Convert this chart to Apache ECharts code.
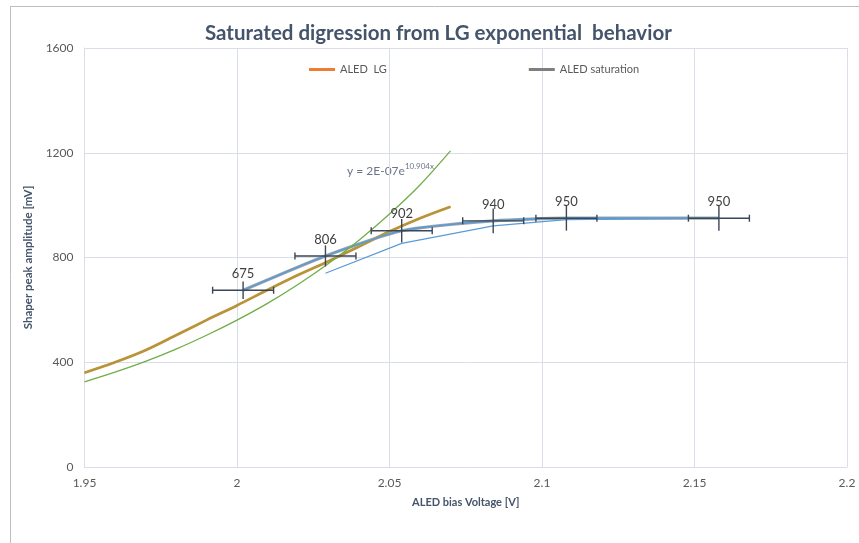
<!DOCTYPE html>
<html>
<head>
<meta charset="utf-8">
<script src="https://cdn.jsdelivr.net/npm/echarts@6/dist/echarts.min.js"></script>
<style>
html,body{margin:0;padding:0;background:#fff;}
#c{width:859px;height:543px;}
</style>
</head>
<body>
<div id="c"></div>
<script>
// ---- data ----
const lgX = [1.95, 1.96, 1.97, 1.98, 1.99, 2.00, 2.01, 2.02, 2.03, 2.04, 2.05, 2.06, 2.07];
const lgY = [360, 400, 446, 503, 561, 617, 676, 733, 786, 842, 899, 950, 994];
const expY = [325, 362, 403, 450, 503, 561, 625, 697, 777, 866, 966, 1077, 1207];
const satX = [2.002, 2.029, 2.054, 2.084, 2.108, 2.158];
const satY = [675, 806, 902, 940, 950, 950];
const maX = [2.029, 2.054, 2.084, 2.108, 2.158];
const maY = [740, 854, 921, 945, 950];
const xErr = 0.01;
const yErrPct = 0.05;
const xTicks = [1.95, 2, 2.05, 2.1, 2.15, 2.2];
const yTicks = [0, 400, 800, 1200, 1600];

const zip = (xs, ys) => xs.map((x, i) => [x, ys[i]]);
const FONT = 'Lato, "Open Sans", sans-serif';
const errData = satX.map((x, i) => [x, satY[i], xErr, satY[i] * yErrPct]);

const chart = echarts.init(document.getElementById('c'), null, {renderer: 'canvas'});
chart.setOption({
  animation: false,
  backgroundColor: '#fff',
  title: {
    text: 'Saturated digression from LG exponential  behavior',
    left: 200, top: 18,
    textStyle: {fontFamily: FONT, fontSize: 20.5, fontWeight: 'bold', color: '#44546A'}
  },
  legend: {
    left: 309, top: 64, padding: 0,
    itemWidth: 26, itemHeight: 3, itemGap: 142,
    icon: 'rect',
    textStyle: {fontFamily: FONT, fontSize: 11, color: '#595959'},
    data: [
      {name: 'ALED  LG', itemStyle: {color: '#ED7D31', opacity: 1}},
      {name: 'ALED saturation', itemStyle: {color: '#7F7F7F', opacity: 1}}
    ]
  },
  grid: {left: 84.5, right: 12, top: 48, bottom: 76, containLabel: false},
  xAxis: {
    type: 'value', min: xTicks[0], max: xTicks[xTicks.length - 1], interval: 0.05,
    name: 'ALED bias Voltage [V]', nameLocation: 'middle', nameGap: 30,
    nameTextStyle: {fontFamily: FONT, fontSize: 11, fontWeight: 'bold', color: '#44546A'},
    axisLine: {show: true, lineStyle: {color: '#D9DEE8'}},
    axisTick: {show: false},
    axisLabel: {fontFamily: FONT, fontSize: 12, color: '#595959', margin: 10,
      formatter: v => String(+v.toFixed(2))},
    splitLine: {show: true, lineStyle: {color: '#D9DEE8'}}
  },
  yAxis: {
    type: 'value', min: yTicks[0], max: yTicks[yTicks.length - 1], interval: 400,
    name: 'Shaper peak amplitude [mV]', nameLocation: 'middle', nameGap: 42, nameRotate: 90,
    nameTextStyle: {fontFamily: FONT, fontSize: 11.5, fontWeight: 'bold', color: '#44546A'},
    axisLine: {show: true, lineStyle: {color: '#D9DEE8'}},
    axisTick: {show: false},
    axisLabel: {fontFamily: FONT, fontSize: 12, color: '#595959', margin: 11,
      formatter: v => String(v)},
    splitLine: {show: true, lineStyle: {color: '#D9DEE8'}}
  },
  graphic: [
    {type: 'line', shape: {x1: 10.5, y1: 6, x2: 10.5, y2: 543}, style: {stroke: '#BFBFBF', lineWidth: 1}, silent: true},
    {type: 'line', shape: {x1: 10, y1: 6.5, x2: 859, y2: 6.5}, style: {stroke: '#BFBFBF', lineWidth: 1}, silent: true},
    {type: 'text', left: 347, top: 162, silent: true,
      style: {
        text: '{a|y = 2E-07e}{s|10.904x}',
        fill: '#6B7589',
        rich: {
          a: {fontFamily: FONT, fontSize: 12, fill: '#6B7589', color: '#6B7589', lineHeight: 15, verticalAlign: 'bottom'},
          s: {fontFamily: FONT, fontSize: 8, fill: '#6B7589', color: '#6B7589', lineHeight: 15, verticalAlign: 'top'}
        }
      }}
  ],
  series: [
    {
      name: 'ALED  LG', type: 'line', data: zip(lgX, lgY), smooth: 0.3,
      symbol: 'none', lineStyle: {color: '#ED7D31', width: 2.7}, z: 2
    },
    {
      name: 'LG poly', type: 'line', data: zip(lgX, lgY), smooth: 0.3,
      symbol: 'none', lineStyle: {color: '#9AA23E', width: 1.6}, z: 3
    },
    {
      name: 'LG expo', type: 'line', data: zip(lgX, expY), smooth: 0.3,
      symbol: 'none', lineStyle: {color: '#70AD47', width: 1.3}, z: 4
    },
    {
      name: 'ALED saturation', type: 'line', data: zip(satX, satY), smooth: 0.2,
      symbol: 'none', lineStyle: {color: '#A5A5A5', width: 3.2}, z: 2
    },
    {
      name: 'sat trend', type: 'line', data: zip(satX, satY), smooth: 0.2,
      symbol: 'none', lineStyle: {color: '#5B9BD5', width: 1.7}, z: 3
    },
    {
      name: 'sat MA', type: 'line', data: zip(maX, maY),
      symbol: 'none', lineStyle: {color: '#5B9BD5', width: 1.2}, z: 3
    },
    {
      name: 'errors', type: 'custom', data: errData, z: 5,
      renderItem: function (params, api) {
        const x = api.value(0), y = api.value(1), dx = api.value(2), dy = api.value(3);
        const p = api.coord([x, y]);
        const pl = api.coord([x - dx, y]);
        const pr = api.coord([x + dx, y]);
        const pt = api.coord([x, y + dy]);
        const pb = api.coord([x, y - dy]);
        const st = {stroke: '#3B4656', lineWidth: 1.4};
        const cap = 3.5;
        return {
          type: 'group',
          children: [
            {type: 'line', shape: {x1: pl[0], y1: pl[1], x2: pr[0], y2: pr[1]}, style: st},
            {type: 'line', shape: {x1: pl[0], y1: pl[1] - cap, x2: pl[0], y2: pl[1] + cap}, style: st},
            {type: 'line', shape: {x1: pr[0], y1: pr[1] - cap, x2: pr[0], y2: pr[1] + cap}, style: st},
            {type: 'line', shape: {x1: pt[0], y1: pt[1], x2: pb[0], y2: pb[1]}, style: st},
            {type: 'text', x: p[0], y: p[1] - 10,
              style: {text: String(y), fill: '#404040', font: '13px ' + FONT,
                align: 'center', verticalAlign: 'bottom'}}
          ]
        };
      }
    }
  ]
});
</script>
</body>
</html>
